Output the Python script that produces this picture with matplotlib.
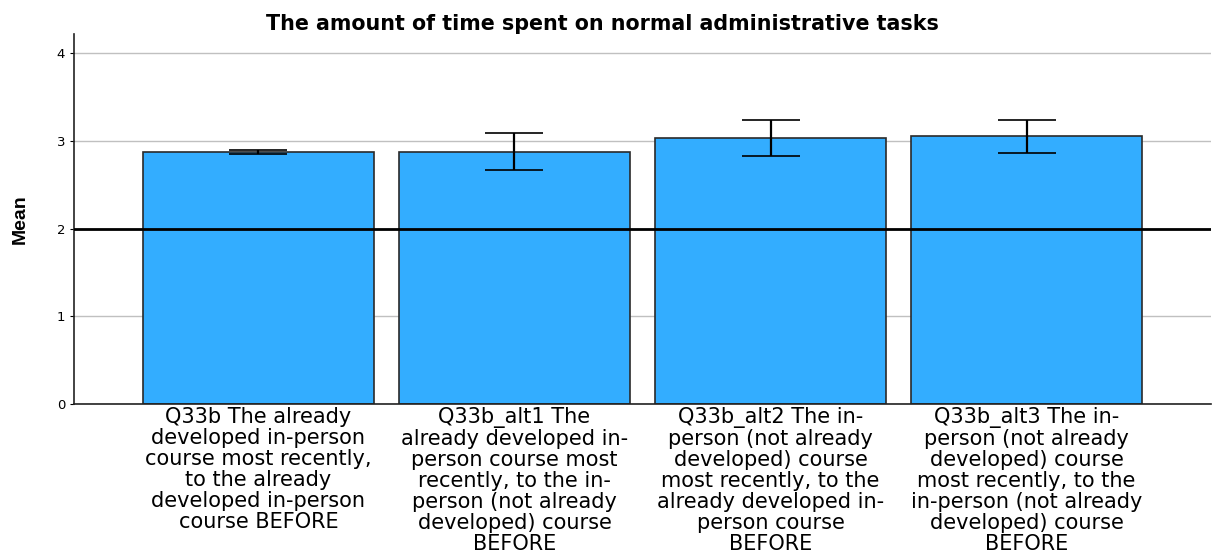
import numpy as np
import matplotlib
matplotlib.use('Agg')
import matplotlib.pyplot as plt

plt.rcParams['font.family'] = ['DejaVu Sans']

categories = [
    'Q33b The already\ndeveloped in-person\ncourse most recently,\nto the already\ndeveloped in-person\ncourse BEFORE',
    'Q33b_alt1 The\nalready developed in-\nperson course most\nrecently, to the in-\nperson (not already\ndeveloped) course\nBEFORE',
    'Q33b_alt2 The in-\nperson (not already\ndeveloped) course\nmost recently, to the\nalready developed in-\nperson course\nBEFORE',
    'Q33b_alt3 The in-\nperson (not already\ndeveloped) course\nmost recently, to the\nin-person (not already\ndeveloped) course\nBEFORE',
]
means = [2.87, 2.87, 3.04, 3.06]
err_low = [2.85, 2.67, 2.83, 2.86]
err_high = [2.90, 3.09, 3.24, 3.24]
ref_value = 2
yticks = [0, 1, 2, 3, 4]

fig = plt.figure(figsize=(12.16, 5.6), dpi=100)
ax = fig.add_axes([0.0609, 0.2786, 0.935, 0.6604])

x = np.arange(len(categories))
m = np.array(means)
yerr = [m - np.array(err_low), np.array(err_high) - m]

ax.set_axisbelow(True)
ax.yaxis.grid(True, color='#c0c0c0', linewidth=1)
ax.bar(x, means, width=0.9, color='#33adff', edgecolor='#2a2a2a', linewidth=1.2, zorder=2)
ax.errorbar(x, means, yerr=yerr, fmt='none', ecolor='black', elinewidth=1.6,
            capsize=21, capthick=1.2, zorder=3)
ax.axhline(ref_value, color='black', linewidth=2, zorder=4)

ax.set_xlim(-0.72, 3.72)
ax.set_ylim(0, 4.22)
ax.set_yticks(yticks)
ax.tick_params(axis='y', labelsize=9.5, length=3, width=0.8)
ax.set_xticks(x)
ax.set_xticklabels(categories, fontsize=15, linespacing=1.07)
ax.tick_params(axis='x', length=0, pad=2)

for s in ['top', 'right']:
    ax.spines[s].set_visible(False)
for s in ['left', 'bottom']:
    ax.spines[s].set_color('#222222')
    ax.spines[s].set_linewidth(1.2)

ax.set_ylabel('Mean', fontsize=14, fontweight='bold', labelpad=20,
              family=['Liberation Sans Narrow', 'Liberation Sans'])
ax.set_title('The amount of time spent on normal administrative tasks',
             fontsize=14.9, fontweight='bold', pad=3, x=0.465)

fig.savefig('out.png', dpi=100)
